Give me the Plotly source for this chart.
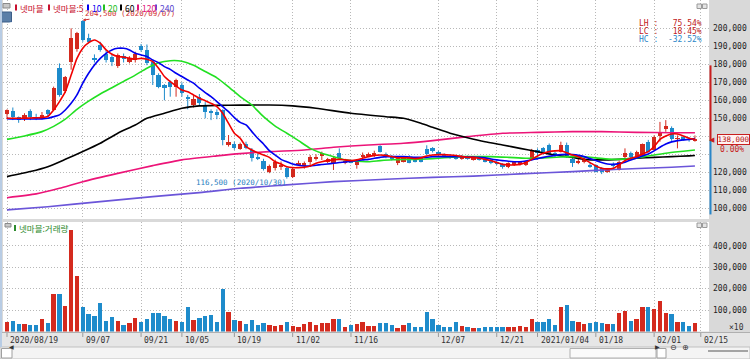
import plotly.graph_objects as go

# ---------------- data (prices in thousand KRW, volume in thousands as displayed) ----------------
tick_idx = [0, 13, 23, 30, 39, 49, 59, 74, 84, 91, 101, 111, 119]
tick_labels = ["2020/08/19", "09/07", "09/21", "10/05", "10/19", "11/02", "11/16",
               "12/07", "12/21", "2021/01/04", "01/18", "02/01", "02/15"]

open_k = [152.3, 154.0, 150.5, 150.4, 154.0, 151.0, 151.0, 154.5, 154.6, 177.8,
          165.4, 181.5, 188.3, 204.0, 194.5, 183.5, 190.7, 186.0, 184.0, 179.0,
          184.5, 181.5, 182.4, 190.0, 188.0, 181.5, 174.0, 168.5, 170.0, 167.6,
          168.5, 162.0, 157.4, 162.0, 157.4, 154.0, 153.5, 154.6, 135.2, 136.0,
          133.0, 136.0, 132.4, 128.7, 126.5, 120.4, 122.2, 123.0, 122.2, 117.2,
          124.6, 124.0, 125.9, 127.5, 129.0, 126.0, 125.0, 130.5, 125.5, 126.5,
          124.5, 128.3, 129.5, 129.1, 134.6, 130.2, 128.7, 125.4, 126.0, 128.7,
          127.8, 127.8, 132.8, 133.3, 131.5, 129.8, 129.2, 128.7, 127.5, 128.7,
          127.0, 128.3, 127.5, 127.0, 126.0, 124.6, 122.8, 124.2, 124.4, 124.0,
          127.2, 132.5, 133.3, 135.2, 130.5, 131.5, 135.2, 127.2, 125.0, 125.5,
          124.1, 124.0, 122.2, 120.3, 124.0, 121.3, 128.3, 130.5, 128.3, 128.7,
          137.0, 132.4, 140.0, 143.9, 144.5, 138.5, 139.5, 138.5, 137.5]
high_k = [155.0, 156.0, 151.0, 152.8, 155.0, 152.5, 153.5, 155.0, 167.6, 180.5,
          173.5, 200.0, 198.0, 204.5, 197.0, 185.5, 192.5, 188.0, 186.0, 186.0,
          186.0, 184.5, 187.0, 191.3, 191.0, 182.0, 175.0, 169.0, 171.0, 172.0,
          170.0, 163.0, 163.0, 163.5, 159.0, 155.0, 155.0, 155.0, 140.7, 137.0,
          136.5, 137.0, 133.5, 130.5, 127.5, 124.3, 127.0, 126.0, 123.0, 122.5,
          126.5, 126.0, 129.6, 130.0, 131.5, 128.0, 128.5, 133.3, 127.5, 127.0,
          126.0, 131.0, 131.0, 132.0, 135.0, 131.0, 129.5, 128.5, 129.0, 129.5,
          128.3, 128.3, 135.0, 134.0, 132.0, 130.5, 130.0, 129.5, 129.5, 129.3,
          129.0, 128.8, 128.0, 127.5, 126.5, 125.0, 125.5, 126.0, 126.0, 126.5,
          133.0, 133.3, 134.0, 136.0, 131.5, 137.0, 136.5, 128.0, 127.5, 128.0,
          125.5, 124.5, 122.8, 122.0, 125.5, 126.5, 133.3, 131.5, 132.0, 136.0,
          138.0, 140.5, 148.0, 149.0, 145.5, 140.5, 140.0, 139.5, 140.5]
low_k = [149.5, 149.0, 147.5, 148.5, 149.0, 149.0, 149.5, 151.0, 154.0, 162.0,
         164.0, 177.0, 187.0, 192.5, 191.5, 181.0, 187.0, 181.0, 179.0, 178.0,
         181.0, 180.5, 181.0, 187.0, 179.5, 168.5, 166.7, 160.0, 162.0, 162.0,
         162.0, 155.0, 156.0, 157.0, 150.0, 149.0, 149.5, 135.0, 134.3, 132.5,
         132.5, 132.8, 126.0, 126.8, 121.0, 119.5, 121.0, 121.3, 116.5, 116.8,
         123.5, 122.0, 123.0, 126.5, 126.8, 125.0, 121.3, 126.9, 124.5, 125.0,
         122.0, 127.5, 128.5, 128.5, 131.0, 127.8, 126.5, 124.0, 125.5, 125.0,
         125.5, 125.5, 129.5, 131.0, 129.0, 128.5, 127.5, 127.0, 127.0, 127.0,
         126.5, 126.5, 125.5, 124.5, 124.0, 122.0, 122.3, 123.5, 123.8, 123.5,
         126.8, 128.5, 130.0, 129.5, 128.5, 131.0, 128.0, 123.0, 124.5, 125.0,
         122.5, 120.0, 119.0, 119.8, 122.5, 121.0, 125.5, 128.0, 128.0, 128.5,
         131.0, 132.0, 137.0, 142.5, 137.5, 133.3, 137.5, 137.0, 137.0]
close_k = [154.5, 150.5, 149.5, 152.0, 151.0, 150.0, 152.0, 152.5, 166.7, 163.0,
           173.2, 194.5, 197.6, 193.5, 192.6, 182.5, 188.0, 182.4, 181.5, 185.0,
           182.8, 183.3, 186.0, 188.0, 180.5, 174.0, 167.6, 167.0, 167.6, 171.3,
           164.0, 161.0, 161.0, 158.3, 153.7, 153.0, 152.0, 138.0, 137.0, 133.3,
           135.5, 133.3, 127.8, 127.2, 121.7, 123.5, 125.9, 123.8, 117.6, 121.7,
           125.2, 125.0, 128.3, 128.5, 130.6, 127.5, 127.8, 127.8, 126.5, 125.5,
           125.5, 129.6, 130.0, 130.9, 131.5, 128.3, 127.2, 127.8, 128.7, 125.4,
           125.9, 126.0, 130.2, 131.8, 129.6, 129.0, 128.0, 127.5, 128.7, 127.4,
           128.5, 127.0, 126.0, 125.4, 124.6, 122.8, 125.0, 125.6, 125.8, 126.3,
           132.4, 131.0, 130.2, 130.2, 129.8, 135.2, 128.7, 125.4, 126.3, 127.0,
           123.0, 120.4, 120.4, 121.0, 123.5, 125.9, 130.5, 128.3, 131.5, 135.7,
           131.5, 139.8, 142.6, 145.7, 138.3, 139.0, 138.0, 138.0, 138.0]
volume_k = [46, 49, 34, 34, 28, 28, 57, 38, 177, 177,
            118, 474, 257, 112, 82, 74, 131, 49, 66, 51,
            31, 38, 65, 46, 57, 88, 88, 72, 58, 51,
            42, 112, 54, 62, 74, 77, 43, 197, 89, 54,
            50, 35, 54, 31, 38, 31, 26, 31, 42, 26,
            20, 34, 46, 31, 38, 38, 57, 58, 23, 28,
            35, 42, 26, 26, 38, 38, 31, 18, 31, 38,
            23, 23, 92, 57, 28, 20, 23, 42, 26, 20,
            15, 15, 20, 20, 23, 20, 23, 20, 26, 23,
            57, 42, 42, 57, 31, 112, 123, 51, 42, 35,
            38, 42, 38, 35, 34, 88, 97, 51, 57, 115,
            112, 103, 141, 85, 80, 42, 42, 26, 38]

ma5_k = [150.0, 150.0, 150.0, 150.0, 150.2, 150.3, 150.4, 151.0,
         154.6, 159.3, 164.8, 174.0, 183.3, 188.9, 192.0, 193.5, 191.7, 188.0,
         185.6, 184.3, 184.0, 183.3, 182.8, 183.3, 182.8, 181.5, 177.8, 173.2,
         170.4, 168.0, 165.7, 164.8, 163.0, 161.1, 159.8, 158.3, 156.5, 152.8,
         147.2, 141.7, 138.9,
         134.3, 132.4, 130.9, 129.6, 128.3, 125.9, 124.6, 123.1, 122.6, 122.6,
         122.8, 123.5, 125.0, 125.9, 126.5, 126.9, 127.2, 126.9, 126.5, 126.9,
         127.8, 128.7, 129.4, 129.6, 129.4, 128.7, 128.1, 128.1, 128.0, 127.6,
         128.0, 129.1, 129.6, 129.8, 129.8, 129.6, 129.3, 128.7, 128.3,
         128.3, 127.8, 127.2, 126.5, 125.4, 124.4, 124.1, 124.1, 124.4, 125.4,
         127.2, 129.1, 130.6, 131.5, 131.9, 132.0, 130.9, 129.6, 128.7, 127.2,
         125.4, 123.5, 122.2, 121.9, 122.2, 124.1, 126.5, 127.8, 128.7, 130.2,
         131.5, 134.3, 138.3, 140.2, 141.3, 141.3, 140.2, 138.9, 138.3]
ma10_k = [149.8, 149.6, 149.6, 149.6, 149.6, 149.6, 149.7, 150.0,
          150.9, 151.9, 154.6, 158.3, 163.0, 169.5, 175.0, 179.6, 183.3, 186.1,
          188.0, 188.9, 188.9, 188.0, 186.1, 185.2, 184.3, 182.4, 180.9, 178.7,
          177.2, 175.0, 173.2, 171.3, 169.5, 166.7, 164.3, 162.0, 159.3, 156.5,
          153.7, 150.4, 147.7,
          146.3, 142.6, 138.9, 135.7, 132.0, 129.6, 127.2, 125.9, 124.6, 123.9,
          123.5, 123.5, 123.9, 124.3, 124.6, 125.0, 125.4, 125.7, 126.1, 126.5,
          126.9, 127.2, 127.8, 128.3, 128.7, 128.7, 128.7, 128.7, 128.5, 128.3,
          128.3, 128.3, 128.7, 128.7, 128.7, 128.7, 128.7, 128.7, 128.5,
          128.5, 128.3, 128.0, 127.4, 126.9, 126.5, 126.1, 125.9, 125.9, 126.3,
          126.9, 127.6, 128.3, 128.9, 129.4, 129.8, 130.0, 129.8, 129.4, 128.7,
          127.6, 126.5, 125.4, 124.6, 124.4, 124.8, 125.6, 126.9, 128.0, 129.1,
          130.2, 131.9, 133.9, 135.7, 136.9, 137.6, 138.0, 138.3, 138.7]

ma20_idx = [0, 3, 6, 8, 10, 12, 14, 16, 18, 20, 22, 24, 26, 28, 30, 32, 34, 36, 38, 40,
            42, 44, 46, 48, 50, 52, 54, 56, 58, 60, 62, 64, 66, 68, 70, 72, 74, 76, 78, 80,
            83, 86, 89, 92, 95, 98, 101, 104, 107, 110, 113, 116, 118]
ma20_k = [138.3, 140.2, 142.6, 145.5, 149.5, 155.0, 159.5, 163.5, 167.0, 170.5,
          174.0, 177.8, 180.8, 182.0, 181.7, 179.5, 176.0, 172.5, 167.5, 162.0,
          157.4, 150.9, 145.7, 141.7, 137.6, 133.3, 130.6, 128.7, 126.9, 126.1,
          125.9, 126.5, 127.0, 127.2, 127.2, 127.4, 127.8, 128.3, 128.7, 128.7,
          128.7, 128.3, 127.8, 128.0, 128.5, 128.7, 128.0, 127.2, 127.6, 129.1,
          130.6, 131.7, 132.4]
ma60_idx = [0, 4, 7, 10, 13, 16, 19, 22, 24, 27, 30, 33, 36, 40, 45, 49, 53, 59, 65, 68,
            71, 73, 76, 79, 82, 85, 88, 91, 94, 97, 99, 102, 105, 108, 111, 114, 117, 118]
ma60_k = [117.6, 120.4, 123.1, 127.2, 131.5, 136.1, 141.7, 146.3, 150.0, 152.8,
          155.6, 156.9, 157.2, 157.3, 157.4, 156.9, 155.6, 152.8, 150.9, 150.0,
          147.2, 145.0, 141.7, 139.2, 137.0, 135.2, 133.3, 131.5, 129.6, 128.3,
          127.2, 126.9, 127.2, 127.8, 128.3, 128.7, 129.1, 129.3]
ma120_idx = [0, 5, 9, 13, 19, 25, 30, 36, 40, 45, 51, 56, 62, 68, 73, 79, 85, 91, 97,
             102, 108, 114, 118]
ma120_k = [105.9, 108.0, 111.1, 114.8, 119.4, 123.7, 126.9, 129.1, 130.4, 131.5,
           132.4, 133.9, 135.2, 136.1, 137.6, 139.8, 141.7, 142.2, 142.6, 142.6,
           142.2, 142.0, 142.0]
ma240_idx = [0, 7, 16, 25, 33, 40, 48, 56, 65, 73, 80, 88, 97, 105, 114, 118]
ma240_k = [99.1, 100.9, 103.7, 106.5, 108.7, 111.1, 113.0, 114.8, 116.1, 117.2,
           117.9, 119.1, 120.4, 121.7, 122.8, 123.5]

price_ticks_k = [100, 110, 120, 130, 140, 150, 160, 170, 180, 190, 200]
volume_ticks_k = [100, 200, 300, 400]
upper_limit_k = 179.4
lower_limit_k = 96.6
high_date = "2020/09/07"
low_date = "2020/10/30"
change_text = "0.00%"
stock_name = "넷마블"
ma_periods = ["5", "10", "20", "60", "120", "240"]

n = len(close_k)
assert all(len(a) == n for a in (open_k, high_k, low_k, volume_k, ma5_k, ma10_k))
assert len(ma20_idx) == len(ma20_k) and len(ma60_idx) == len(ma60_k)
assert len(ma120_idx) == len(ma120_k) and len(ma240_idx) == len(ma240_k)

K = 1000
opens = [v * K for v in open_k]
highs = [v * K for v in high_k]
lows = [v * K for v in low_k]
closes = [v * K for v in close_k]
volumes = [v * K for v in volume_k]
xs = list(range(n))

# ---------------- styling ----------------
W, H = 750, 359
RED = "#D42A1E"
BLUE = "#1E8BCB"
GRID = "#B8B8B8"
PANEL = "#D9D9D9"
MONO = "DejaVu Sans Mono"
KR = "Noto Sans CJK KR"


def fx(p):
    return p / W


def fy(p):
    return 1 - p / H


X0, X1 = 3, 709          # plot area (px)
PY0, PY1 = 0, 219        # price panel (px)
VY0, VY1 = 222, 331.5    # volume panel (px)

up = [c >= o for o, c in zip(opens, closes)]
col = [RED if u else BLUE for u in up]

fig = go.Figure()

fig.add_trace(go.Bar(x=xs, y=volumes, marker=dict(color=col, line=dict(width=0)),
                     width=0.74, xaxis="x2", yaxis="y2", showlegend=False, hoverinfo="skip"))

for flag, c in ((True, RED), (False, BLUE)):
    wx, wy = [], []
    for i in range(n):
        if up[i] == flag:
            wx += [i, i, None]
            wy += [lows[i], highs[i], None]
    fig.add_trace(go.Scatter(x=wx, y=wy, mode="lines", line=dict(color=c, width=1),
                             showlegend=False, hoverinfo="skip"))

base = [min(o, c) for o, c in zip(opens, closes)]
body = [max(abs(c - o), 400) for o, c in zip(opens, closes)]
fig.add_trace(go.Bar(x=xs, y=body, base=base, marker=dict(color=col, line=dict(width=0)),
                     width=0.72, showlegend=False, hoverinfo="skip"))

ma_specs = [
    (ma240_idx, ma240_k, "#6B55D9"),
    (ma120_idx, ma120_k, "#EC1478"),
    (ma60_idx, ma60_k, "#000000"),
    (ma20_idx, ma20_k, "#22E022"),
    (xs, ma10_k, "#0000F0"),
    (xs, ma5_k, "#F00000"),
]
for ix, vals, c in ma_specs:
    fig.add_trace(go.Scatter(x=ix, y=[v * K for v in vals], mode="lines",
                             line=dict(color=c, width=1.6, shape="spline", smoothing=0.6),
                             showlegend=False, hoverinfo="skip"))

xr = [(X0 - 7) / 5.83, (X1 - 7) / 5.83]
p_lo = 100 + (208.3 - PY1) / 1.8
p_hi = 100 + (208.3 - PY0) / 1.8
v_hi = (331.4 - VY0) / 21.43 * 100

last = closes[-1]
# labels hidden behind the current-price box / change text (as in the reference)
price_ticktext = ["" if abs(v * K - last) < 12 * K else f"{v * K:,}" for v in price_ticks_k]

axis_font = dict(family=MONO, size=8, color="#222222")
grid_kw = dict(showgrid=True, gridcolor=GRID, griddash="1px,2px", gridwidth=1,
               zeroline=False, showline=False)
fig.update_layout(
    width=W, height=H, margin=dict(l=0, r=0, t=0, b=0),
    paper_bgcolor=PANEL, plot_bgcolor="white", bargap=0, barmode="overlay",
    xaxis=dict(domain=[fx(X0), fx(X1)], range=xr, anchor="y", tickvals=tick_idx,
               showticklabels=False, ticks="", **grid_kw),
    yaxis=dict(domain=[fy(PY1), fy(PY0)], range=[p_lo * K, p_hi * K], anchor="x", side="right",
               tickvals=[v * K for v in price_ticks_k], ticktext=price_ticktext, ticks="", ticklen=0,
               tickfont=axis_font, ticklabelstandoff=3, **grid_kw),
    xaxis2=dict(domain=[fx(X0), fx(X1)], range=xr, anchor="y2", matches="x", tickvals=tick_idx,
                showticklabels=False, ticks="", **grid_kw),
    yaxis2=dict(domain=[fy(VY1), fy(VY0)], range=[0, v_hi * K], anchor="x2", side="right",
                tickvals=[v * K for v in volume_ticks_k], tickformat=",d", ticks="", ticklen=0,
                tickfont=axis_font, ticklabelstandoff=3, **grid_kw),
)

shapes = []
ann = []

# date band + scroll bar
shapes.append(dict(type="rect", xref="paper", yref="paper", x0=0, x1=1, y0=fy(347), y1=fy(332.5),
                   fillcolor="#E6E6E6", line=dict(width=0), layer="below"))
shapes.append(dict(type="line", xref="paper", yref="paper", x0=0, x1=1, y0=fy(332.5), y1=fy(332.5),
                   line=dict(color="#B0B0B0", width=1)))
shapes.append(dict(type="rect", xref="paper", yref="paper", x0=0, x1=1, y0=0, y1=fy(347),
                   fillcolor="#F4F4F4", line=dict(color="#C0C0C0", width=1), layer="below"))
for t, lab in zip(tick_idx, tick_labels):
    shapes.append(dict(type="line", xref="x2", yref="paper", x0=t, x1=t, y0=fy(337), y1=fy(333),
                       line=dict(color="#9A9A9A", width=1)))
    ann.append(dict(x=t, y=fy(340.5), xref="x2", yref="paper", text=lab, showarrow=False,
                    xanchor="left", yanchor="middle", xshift=1,
                    font=dict(family=MONO, size=8, color="#333333")))

shapes.append(dict(type="rect", xref="paper", yref="paper", x0=fx(1.5), x1=fx(12), y0=fy(358),
                   y1=fy(348.5), fillcolor="white", line=dict(color="#A0A0A0", width=1)))
ann.append(dict(x=fx(6.8), y=fy(353.3), xref="paper", yref="paper", text="◀", showarrow=False,
                font=dict(size=6, color="#333333")))
shapes.append(dict(type="rect", xref="paper", yref="paper", x0=fx(570), x1=fx(656), y0=fy(358),
                   y1=fy(348.5), fillcolor="#FAFAFA", line=dict(color="#B0B0B0", width=1)))
shapes.append(dict(type="rect", xref="paper", yref="paper", x0=fx(657), x1=fx(666), y0=fy(358),
                   y1=fy(348.5), fillcolor="white", line=dict(color="#A0A0A0", width=1)))
ann.append(dict(x=fx(661.5), y=fy(353.3), xref="paper", yref="paper", text="▶", showarrow=False,
                font=dict(size=6, color="#333333")))
ann.append(dict(x=fx(668), y=fy(353.5), xref="paper", yref="paper", text="⊖", showarrow=False,
                xanchor="left", font=dict(family="DejaVu Sans", size=8, color="#333333")))
ann.append(dict(x=fx(680), y=fy(353.5), xref="paper", yref="paper", text="⊕", showarrow=False,
                xanchor="left", font=dict(family="DejaVu Sans", size=8, color="#333333")))
shapes.append(dict(type="line", xref="paper", yref="paper", x0=fx(708), x1=fx(748), y0=fy(351),
                   y1=fy(351), line=dict(color="#555555", width=1)))

# price limit bar and current price box
shapes.append(dict(type="line", xref="paper", yref="y", x0=fx(710.5), x1=fx(710.5),
                   y0=last, y1=upper_limit_k * K, line=dict(color="#C81E1E", width=2)))
shapes.append(dict(type="line", xref="paper", yref="y", x0=fx(710.5), x1=fx(710.5),
                   y0=lower_limit_k * K, y1=last, line=dict(color="#2A86C8", width=2)))
ann.append(dict(x=fx(716.5), y=last, xref="paper", yref="y", text=f"{last:,.0f}", showarrow=False,
                xanchor="left", yanchor="middle", width=31, height=9, borderpad=0,
                bgcolor="#FFF2F2", bordercolor="#C81E1E", borderwidth=1,
                font=dict(family=MONO, size=7.5, color="#B01010")))
ann.append(dict(x=fx(717), y=last, xref="paper", yref="y", text="◀", showarrow=False,
                xanchor="right", yanchor="middle", font=dict(size=7, color="#C81E1E")))
ann.append(dict(x=fx(746), y=fy(149.5), xref="paper", yref="paper", text=change_text,
                showarrow=False, xanchor="right", yanchor="middle",
                font=dict(family=MONO, size=8, color="#C81E1E")))

# max / min markers
hi = max(highs)
lo = min(lows)
i_hi = highs.index(hi)
i_lo = lows.index(lo)
ann.append(dict(x=i_hi, y=hi, xref="x", yref="y", text=f"{hi:,.0f} ({high_date})",
                showarrow=True, arrowhead=2, arrowsize=0.6, arrowwidth=1, arrowcolor="#D03030",
                ax=47, ay=-7, font=dict(family=MONO, size=7.5, color="#D03030")))
ann.append(dict(x=i_lo, y=lo, xref="x", yref="y", text=f"{lo:,.0f} ({low_date})",
                showarrow=True, arrowhead=2, arrowsize=0.6, arrowwidth=1, arrowcolor="#2A7EC0",
                ax=-46, ay=4, font=dict(family=MONO, size=7.5, color="#2A7EC0")))

# LH / LC / HC
lh = (hi / lo - 1) * 100
lc = (last / lo - 1) * 100
hc = (last / hi - 1) * 100
for k, (lab, v, c) in enumerate((("LH", lh, "#C02020"), ("LC", lc, "#C02020"), ("HC", hc, "#2A86C8"))):
    ann.append(dict(x=fx(704), y=fy(23.5 + 8 * k), xref="paper", yref="paper",
                    text=f"{lab} : {v:7.2f}%".replace(" ", "&nbsp;"), showarrow=False,
                    xanchor="right", yanchor="middle", font=dict(family=MONO, size=8, color=c)))

# legend row (price panel)
shapes.append(dict(type="rect", xref="paper", yref="paper", x0=fx(3), x1=fx(10), y0=fy(8),
                   y1=fy(3.5), fillcolor="#C8C8C8", line=dict(color="#8A8A8A", width=1)))
legend_items = [(stock_name, "#C8102E", 15), (f"{stock_name}:{ma_periods[0]}", "#C8102E", 48),
                (ma_periods[1], "#0000F0", 87), (ma_periods[2], "#22C022", 103),
                (ma_periods[3], "#000000", 120), (ma_periods[4], "#E0147A", 137),
                (ma_periods[5], "#5A46D0", 155)]
for text, c, x in legend_items:
    shapes.append(dict(type="rect", xref="paper", yref="paper", x0=fx(x), x1=fx(x + 2), y0=fy(10.5),
                       y1=fy(4.5), fillcolor=c, line=dict(width=0)))
    ann.append(dict(x=fx(x + 2.5), y=fy(7.5), xref="paper", yref="paper", text=text, showarrow=False,
                    xanchor="left", yanchor="middle", font=dict(family=KR, size=8.5, color=c)))

shapes.append(dict(type="rect", xref="paper", yref="paper", x0=fx(1.5), x1=fx(11.5), y0=fy(22),
                   y1=fy(12), fillcolor="#5B7FA8", line=dict(color="#3D5E88", width=1)))
ann.append(dict(x=fx(6.5), y=fy(17), xref="paper", yref="paper", text="호", showarrow=False,
                font=dict(family=KR, size=8, color="white")))

for yy in (4, 223):
    for xx in (697, 702.5):
        shapes.append(dict(type="rect", xref="paper", yref="paper", x0=fx(xx), x1=fx(xx + 4.5),
                           y0=fy(yy + 4.5), y1=fy(yy), fillcolor="#E4E4E4",
                           line=dict(color="#9A9A9A", width=1)))

shapes.append(dict(type="rect", xref="paper", yref="paper", x0=fx(5), x1=fx(11), y0=fy(227),
                   y1=fy(223.5), fillcolor="#C8C8C8", line=dict(color="#8A8A8A", width=1)))
shapes.append(dict(type="rect", xref="paper", yref="paper", x0=fx(14), x1=fx(16), y0=fy(231),
                   y1=fy(225), fillcolor="#2E8B2E", line=dict(width=0)))
ann.append(dict(x=fx(17), y=fy(228), xref="paper", yref="paper", text=f"{stock_name}:거래량",
                showarrow=False, xanchor="left", yanchor="middle",
                font=dict(family=KR, size=8.5, color="#2E8B2E")))
ann.append(dict(x=fx(746), y=fy(327), xref="paper", yref="paper", text="×10", showarrow=False,
                xanchor="right", yanchor="middle", font=dict(family=MONO, size=8, color="#333333")))

shapes.append(dict(type="rect", xref="paper", yref="paper", x0=0, x1=fx(2), y0=fy(347), y1=1,
                   fillcolor="#B8CCE4", line=dict(width=0)))

fig.update_layout(shapes=shapes, annotations=ann)
fig.write_html("out.html", config={"displayModeBar": False},
               post_script="document.body.style.margin='0';document.body.style.overflow='hidden';")
